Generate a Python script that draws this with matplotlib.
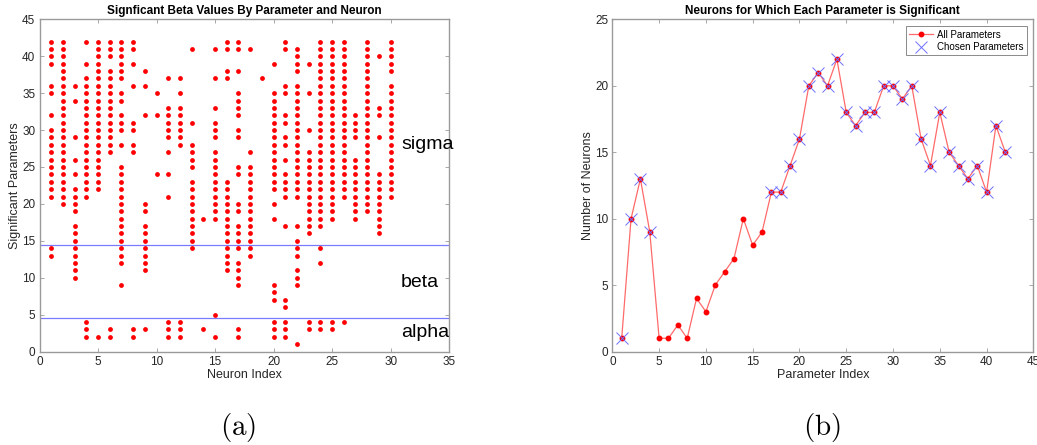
import numpy as np
import matplotlib
matplotlib.use("Agg")
import matplotlib.pyplot as plt

plt.rcParams['font.family'] = ['Liberation Sans', 'DejaVu Sans']
plt.rcParams['mathtext.fontset'] = 'cm'

# significant parameters of each neuron (neuron 1..30), split by block
sigma_params = [
    [42, 41, 40, 39, 36, 35, 32, 30, 29, 28, 27, 26, 25, 24, 23, 22, 21],
    [42, 41, 40, 39, 38, 37, 36, 35, 34, 33, 32, 31, 30, 29, 28, 27, 26, 25, 24, 23, 22, 21, 20],
    [36, 34, 29, 26, 24, 22, 21, 20, 19, 17, 16, 15],
    [42, 39, 37, 36, 35, 34, 33, 32, 31, 30, 29, 28, 27, 26, 25, 24, 23, 22, 21],
    [42, 41, 40, 39, 38, 37, 36, 35, 34, 33, 32, 31, 30, 29, 28, 27, 26, 25, 24, 23, 22],
    [42, 41, 40, 38, 37, 36, 35, 34, 33, 32, 31, 30, 29, 28, 27],
    [42, 41, 40, 39, 38, 37, 35, 34, 32, 31, 30, 28, 25, 24, 23, 22, 21, 20, 19, 18, 17, 16, 15],
    [42, 41, 39, 36, 31, 30, 28, 27],
    [38, 36, 32, 20, 19, 17, 16, 15],
    [35, 32, 24],
    [37, 33, 32, 31, 30, 29, 27, 24, 21],
    [37, 35, 33, 32, 31, 30, 29, 28],
    [41, 31, 28, 27, 26, 25, 23, 22, 21, 20, 19, 18, 17, 16, 15],
    [18],
    [41, 37, 33, 31, 30, 29, 27, 26, 25, 24, 23, 22, 21, 20, 19, 18],
    [42, 41, 38, 37, 23, 22, 21, 20, 19, 18, 17, 16, 15],
    [42, 41, 38, 35, 34, 33, 32, 30, 29, 25, 24, 20, 19, 17, 16, 15],
    [41, 27, 25, 24, 23, 22, 21, 20, 19, 18, 17, 16, 15],
    [37],
    [39, 35, 34, 33, 32, 31, 30, 29, 28, 27, 26, 25, 24, 23, 22, 20, 18],
    [42, 41, 36, 35, 32, 31, 29, 28, 26, 24, 23, 22, 21, 17],
    [41, 40, 39, 38, 36, 35, 34, 33, 32, 31, 30, 29, 28, 27, 26, 25, 24, 23, 22, 21, 17, 15],
    [39, 35, 30, 27, 26, 25, 24, 23, 22, 21, 20, 19, 18, 17, 16],
    [42, 41, 40, 39, 38, 37, 36, 35, 34, 33, 32, 31, 30, 29, 28, 27, 26, 25, 24, 23, 22, 21, 20, 19, 18, 17],
    [42, 41, 40, 39, 38, 37, 36, 35, 34, 33, 32, 31, 30, 29, 28, 27, 26, 25, 24, 23, 22, 21, 20, 19, 18],
    [42, 41, 40, 39, 38, 37, 36, 35, 34, 33, 32, 31, 30, 29, 28, 27, 26, 25, 24, 23, 22, 21],
    [32, 31, 30, 29, 26, 25, 24, 23, 22, 21, 20, 19, 18],
    [42, 41, 40, 39, 38, 37, 36, 35, 34, 33, 32, 31, 30, 29, 28, 27, 26, 25, 24, 23, 22, 21, 20, 19],
    [40, 33, 32, 29, 24, 23, 22, 21, 20, 19, 18, 17, 16],
    [42, 41, 40, 39, 38, 36, 35, 34, 33, 32, 31, 30, 29, 28, 27, 26, 25, 24, 23, 22, 21],
]
beta_params = [
    [14, 13], [], [14, 13, 12, 11, 10], [], [], [], [14, 13, 12, 9], [], [14, 13, 12, 11], [],
    [], [], [14], [], [5], [14, 13, 12, 11], [14, 12, 11, 10, 9], [14, 13], [], [9, 8, 7],
    [7, 6], [14, 13, 11, 10, 9], [], [14, 12], [], [], [], [], [], [],
]
alpha_params = [
    [], [], [], [4, 3, 2], [2], [3, 2], [], [3, 2], [3], [],
    [4, 3, 2], [4, 3, 2], [], [3], [2], [], [3, 2], [], [], [4, 3, 2],
    [4, 3, 2], [1], [4, 3], [4, 3], [4, 3], [4], [], [], [], [],
]

# right panel: number of neurons per parameter
param_index = list(range(1, 43))
neuron_count = [1, 10, 13, 9, 1, 1, 2, 1, 4, 3, 5, 6, 7, 10, 8, 9, 12, 12, 14, 16, 20,
                21, 20, 22, 18, 17, 18, 18, 20, 20, 19, 20, 16, 14, 18, 15, 14, 13, 14, 12, 17, 15]
chosen_index = [1, 2, 3, 4, 17, 18, 19, 20, 21, 22, 23, 24, 25, 26, 27, 28, 29, 30,
                31, 32, 33, 34, 35, 36, 37, 38, 39, 40, 41, 42]
chosen_count = [1, 10, 13, 9, 12, 12, 14, 16, 20, 21, 20, 22, 18, 17, 18, 18, 20, 20,
                19, 20, 16, 14, 18, 15, 14, 13, 14, 12, 17, 15]

fig = plt.figure(figsize=(10.37, 4.45), dpi=100)
ax1 = fig.add_axes([0.0381, 0.210, 0.395, 0.7465])
ax2 = fig.add_axes([0.5905, 0.210, 0.406, 0.7465])

tick_col = '#262626'
spine_col = '#9a9a9a'

def style(ax):
    for s in ax.spines.values():
        s.set_color(spine_col)
        s.set_linewidth(1.0)
    ax.tick_params(direction='in', length=3, width=0.6, color=spine_col,
                   labelsize=8.5, labelcolor=tick_col, top=True, right=True, pad=3)

# left panel
xs, ys = [], []
for i in range(30):
    for p in sigma_params[i] + beta_params[i] + alpha_params[i]:
        xs.append(i + 1)
        ys.append(p)
ax1.scatter(xs, ys, s=12, c='red', linewidths=0, zorder=3)
ax1.axhline(14.5, color='#7a7aff', lw=0.9)
ax1.axhline(4.5, color='#7a7aff', lw=0.9)
ax1.set_xlim(0, 35)
ax1.set_ylim(0, 45)
ax1.set_xticks(np.arange(0, 36, 5))
ax1.set_yticks(np.arange(0, 46, 5))
ax1.text(30.9, 28.0, 'sigma', fontsize=14, va='center', ha='left', clip_on=False)
ax1.text(30.9, 9.3, 'beta', fontsize=14, va='center', ha='left', clip_on=False)
ax1.text(30.9, 2.6, 'alpha', fontsize=14, va='center', ha='left', clip_on=False)
ax1.set_title('Signficant Beta Values By Parameter and Neuron', fontsize=8.5,
              fontweight='bold', pad=4)
ax1.set_xlabel('Neuron Index', fontsize=9, color=tick_col, labelpad=1)
ax1.set_ylabel('Significant Parameters', fontsize=9, color=tick_col, labelpad=1)
style(ax1)

# right panel
ax2.plot(param_index, neuron_count, '-', color='#ff6a6a', lw=0.9, marker='o',
         markersize=3.2, markerfacecolor='red', markeredgecolor='red',
         label='All Parameters', zorder=2)
ax2.plot(chosen_index, chosen_count, 'x', color='#7070ff', markersize=8, mew=0.7,
         label='Chosen Parameters', zorder=3)
ax2.set_xlim(0, 45)
ax2.set_ylim(0, 25)
ax2.set_xticks(np.arange(0, 46, 5))
ax2.set_yticks(np.arange(0, 26, 5))
ax2.set_title('Neurons for Which Each Parameter is Significant', fontsize=8.5,
              fontweight='bold', pad=4)
ax2.set_xlabel('Parameter Index', fontsize=9, color=tick_col, labelpad=1)
ax2.set_ylabel('Number of Neurons', fontsize=9, color=tick_col, labelpad=1)
leg = ax2.legend(loc='upper right', fontsize=7, frameon=True, fancybox=False,
                 borderaxespad=0.7, handlelength=2.4, handletextpad=0.4,
                 borderpad=0.35, labelspacing=0.25)
leg.get_frame().set_edgecolor('#555555')
leg.get_frame().set_linewidth(0.6)
style(ax2)

fig.text(238 / 1037, 1 - 427 / 445, r'$\mathrm{(a)}$', fontsize=21, ha='center', va='center')
fig.text(822 / 1037, 1 - 427 / 445, r'$\mathrm{(b)}$', fontsize=21, ha='center', va='center')

fig.savefig('out.png', dpi=100)
